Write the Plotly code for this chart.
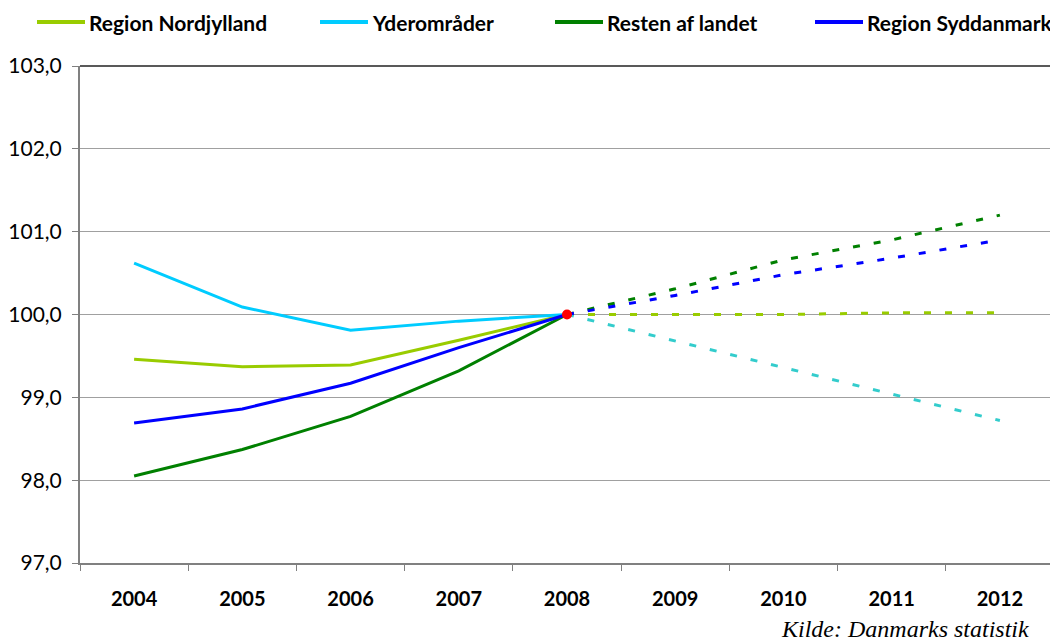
import plotly.graph_objects as go

years = ["2004", "2005", "2006", "2007", "2008", "2009", "2010", "2011", "2012"]
hist_years = years[:5]
fc_years = years[4:]

nord_hist = [99.46, 99.37, 99.39, 99.69, 100.0]
nord_fc = [100.0, 100.0, 100.0, 100.02, 100.02]
yder_hist = [100.62, 100.09, 99.81, 99.92, 100.0]
yder_fc = [100.0, 99.68, 99.36, 99.04, 98.72]
rest_hist = [98.05, 98.37, 98.77, 99.32, 100.0]
rest_fc = [100.0, 100.31, 100.66, 100.9, 101.2]
syd_hist = [98.69, 98.86, 99.17, 99.6, 100.0]
syd_fc = [100.0, 100.23, 100.48, 100.68, 100.9]

names = ["Region Nordjylland", "Yderområder", "Resten af landet", "Region Syddanmark"]
hist_colors = ["#99CC00", "#00CCFF", "#008000", "#0000FF"]
fc_colors = ["#99CC00", "#33CCCC", "#008000", "#0000FF"]
hists = [nord_hist, yder_hist, rest_hist, syd_hist]
fcs = [nord_fc, yder_fc, rest_fc, syd_fc]

fig = go.Figure()
for name, c, fc_c, h, f in zip(names, hist_colors, fc_colors, hists, fcs):
    fig.add_trace(go.Scatter(x=fc_years, y=f, mode="lines", showlegend=False,
                             line=dict(color=fc_c, width=3, dash="7px,14px")))
for name, c, fc_c, h, f in zip(names, hist_colors, fc_colors, hists, fcs):
    fig.add_trace(go.Scatter(x=hist_years, y=h, mode="lines", name=name, showlegend=False,
                             line=dict(color=c, width=3)))
fig.add_trace(go.Scatter(x=["2008"], y=[100.0], mode="markers", showlegend=False,
                         marker=dict(color="#FF0000", size=10)))

# page has an 8px body margin; figure is sized so the plot lands where the reference has it
W, H = 1050, 633
PL, PT, PW, PH = 80, 66, 974, 497   # plot area in screen pixels


def px(x):
    return (x - PL) / PW


def py(y):
    return (PT + PH - y) / PH


# manual legend
leg_x = [37, 320, 555, 815]
for lx, name, c in zip(leg_x, names, hist_colors):
    fig.add_shape(type="line", xref="paper", yref="paper",
                  x0=px(lx), x1=px(lx + 48), y0=py(22), y1=py(22),
                  line=dict(color=c, width=4))
    fig.add_annotation(text="<b>" + name + "</b>", xref="paper", yref="paper",
                       x=px(lx + 50), y=py(22),
                       xanchor="left", yanchor="middle", showarrow=False,
                       font=dict(family="Lato", size=21, color="#000000"))

# plot border
fig.add_shape(type="line", xref="paper", yref="paper", x0=0, x1=1, y0=1, y1=1,
              line=dict(color="#222222", width=1.5))
fig.add_shape(type="line", xref="paper", yref="paper", x0=1, x1=1, y0=0, y1=1,
              line=dict(color="#808080", width=2))

fig.add_annotation(text="<i>Kilde: Danmarks statistik</i>", xref="paper", yref="paper",
                   x=px(1031), y=py(629), xanchor="right", yanchor="middle",
                   showarrow=False,
                   font=dict(family="Liberation Serif", size=24, color="#000000"))

fig.update_layout(
    width=W, height=H,
    margin=dict(l=PL - 8, r=W - (PL - 8) - PW, t=PT - 8, b=H - (PT - 8) - PH, pad=0,
                autoexpand=False),
    plot_bgcolor="white", paper_bgcolor="white",
    separators=",.",
    showlegend=False,
    xaxis=dict(type="category", categoryorder="array", categoryarray=years,
               range=[-0.5, 8.5], tickson="boundaries", ticks="outside", ticklen=6,
               tickcolor="#808080", showline=True, linecolor="#808080", linewidth=2,
               showgrid=False, zeroline=False, ticklabelstandoff=17, automargin=False,
               tickfont=dict(family="Lato", size=20, color="#000000", weight="bold")),
    yaxis=dict(range=[97, 103], dtick=1, tickformat=".1f", ticks="outside", ticklen=6,
               tickcolor="#808080", showline=True, linecolor="#808080", linewidth=2,
               showgrid=True, gridcolor="#A0A0A0", gridwidth=1, zeroline=False,
               ticklabelstandoff=6, automargin=False,
               tickfont=dict(family="Lato", size=21, color="#000000")),
)

fig.write_html("out.html")
